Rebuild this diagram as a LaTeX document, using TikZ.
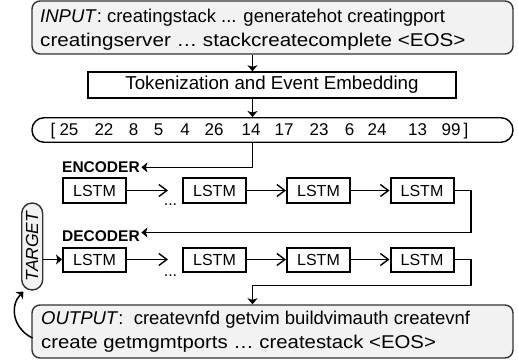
\documentclass[tikz,border=0pt]{standalone}
\usepackage{graphicx}
\usepackage{fontspec}
\setmainfont{Liberation Sans}
\usetikzlibrary{arrows.meta}
\definecolor{boxgray}{HTML}{F2F2F2}
\definecolor{edgegray}{HTML}{333333}
\tikzset{
  txt/.style={font=\fontsize{18.5}{24}\selectfont, inner sep=0pt, anchor=base west},
  num/.style={font=\fontsize{17}{24}\selectfont, inner sep=0pt, anchor=base},
  graybox/.style={draw=edgegray, line width=1.4pt, fill=boxgray, rounded corners=8pt},
  whitebox/.style={draw=black, line width=1.4pt, fill=white},
  lstm/.style={draw=black, line width=2pt, fill=white, minimum width=63pt, minimum height=24pt, inner sep=0pt, font=\fontsize{16}{18}\selectfont},
  lbl/.style={font=\bfseries\fontsize{15.5}{18}\selectfont, inner sep=0pt, anchor=base west},
  conn/.style={line width=1.5pt},
  tip/.style={-{Stealth[length=6pt,width=10pt,inset=1.5pt]}},
  open/.style={-{Straight Barb[length=8pt,width=12pt,line width=1.4pt]}},
  dots/.style={font=\fontsize{16}{18}\selectfont, inner sep=0pt}
}
\begin{document}
\begin{tikzpicture}[x=1pt,y=-1pt]
\useasboundingbox (0,0) rectangle (518,363);
% input box
\node[graybox, minimum width=481pt, minimum height=53pt, inner sep=0pt] (input) at (272.5,27.5) {};
\node[txt] (in1) at (40,22.7) {\textit{INPUT}: creatingstack ... generatehot creatingport};
\node[txt] (in2) at (40,46.7) {\scalebox{1.115}[1]{creatingserver … stackcreatecomplete <EOS>}};
% tokenization
\node[whitebox, minimum width=368pt, minimum height=26pt, inner sep=0pt, font=\fontsize{18.7}{24}\selectfont] (tok) at (272,85) {Tokenization and Event Embedding};
% list box
\node[draw=black, line width=1.4pt, fill=white, rounded corners=12pt, minimum width=481pt, minimum height=24.5pt, inner sep=0pt] (list) at (272.5,130) {};
\node[num] (lb) at (53,135.8) {[};
\node[num] (n1) at (69,135.8) {25};
\node[num] (n2) at (104,135.8) {22};
\node[num] (n3) at (133.5,135.8) {8};
\node[num] (n4) at (158.5,135.8) {5};
\node[num] (n5) at (185,135.8) {4};
\node[num] (n6) at (214,135.8) {26};
\node[num] (n7) at (251,135.8) {14};
\node[num] (n8) at (284,135.8) {17};
\node[num] (n9) at (319,135.8) {23};
\node[num] (n10) at (349.5,135.8) {6};
\node[num] (n11) at (377,135.8) {24};
\node[num] (n12) at (417.5,135.8) {13};
\node[num] (n13) at (451,135.8) {99};
\node[num] (rb) at (466,135.8) {]};
\coordinate (ax) at (252.5,0);
\draw[conn,tip] (input.south -| ax) -- (tok.north -| ax);
\draw[conn,tip] (tok.south -| ax) -- (list.north -| ax);
% encoder
\node[lbl] (enc) at (62,172.7) {ENCODER};
\node[lstm] (e1) at (94.5,190.5) {LSTM};
\node[lstm] (e2) at (214.5,190.5) {LSTM};
\node[lstm] (e3) at (318.5,190.5) {LSTM};
\node[lstm] (e4) at (422,190.5) {LSTM};
\coordinate (e1t) at (168,190.5);
\node[dots] (ed) at (170.5,205) {...};
\draw[conn,open] (e1) -- (e1t);
\draw[conn,open] (e2) -- (e3);
\draw[conn,open] (e3) -- (e4);
\draw[conn,tip] (list.south -| ax) |- ([xshift=1.5pt]enc.east);
% decoder
\node[lbl] (dec) at (62,241) {DECODER};
\node[lstm] (d1) at (94.5,259.5) {LSTM};
\node[lstm] (d2) at (214.5,259.5) {LSTM};
\node[lstm] (d3) at (318.5,259.5) {LSTM};
\node[lstm] (d4) at (422,259.5) {LSTM};
\coordinate (d1t) at (168,259.5);
\node[dots] (dd) at (170.5,276) {...};
\draw[conn,open] (d1) -- (d1t);
\draw[conn,open] (d2) -- (d3);
\draw[conn,open] (d3) -- (d4);
\coordinate (rx) at (471,0);
\draw[conn,tip] (e4.east) -- (e4.east -| rx) -- (rx |- 0,232.5) -- ([xshift=1.5pt]dec.east |- 0,232.5);
% output box
\node[graybox, minimum width=481pt, minimum height=53pt, inner sep=0pt] (output) at (272.5,331.5) {};
\node[txt] (out1) at (41,324.3) {\textit{OUTPUT}:\ \ createvnfd getvim buildvimauth createvnf};
\node[txt] (out2) at (41,348.3) {\scalebox{1.1}[1]{create getmgmtports … createstack <EOS>}};
\draw[conn,tip] (d4.east) -- (d4.east -| rx) -- (rx |- 0,285.5) -- (ax |- 0,285.5) -- (output.north -| ax);
% target
\node[graybox, rounded corners=10.5pt, rotate=90, minimum width=87pt, minimum height=21pt, inner sep=0pt, font=\itshape\fontsize{17.5}{20}\selectfont] (target) at (32.2,246.5) {TARGET};
\draw[conn,tip] (target.south |- d1.west) -- (d1.west);
\coordinate (cs) at (32.5,338);
\coordinate (ce) at (23.5,291.5);
\draw[conn,tip] (cs) .. controls (12,328) and (10,305) .. (ce);
\end{tikzpicture}
\end{document}
